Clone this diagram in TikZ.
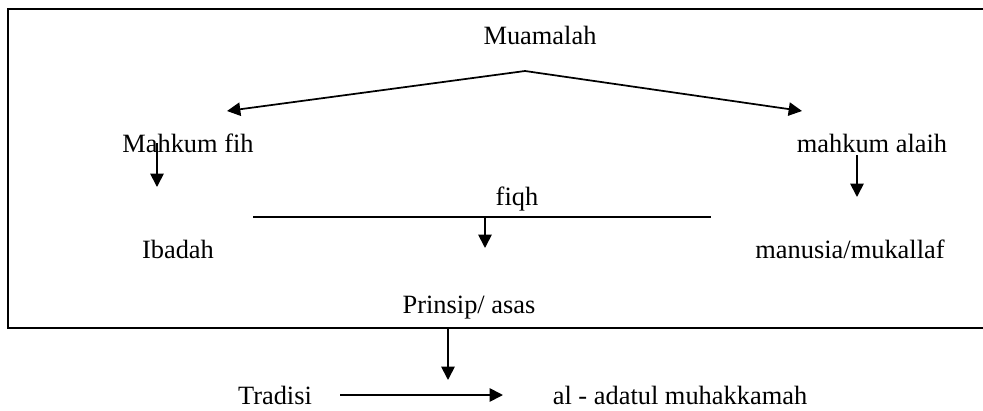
\documentclass[tikz,border=0pt]{standalone}
\usepackage{fontspec}
\setmainfont{Liberation Serif}
\usetikzlibrary{arrows.meta, positioning}

\begin{document}
\begin{tikzpicture}[
        x=0.75pt, y=-0.75pt,
        >={Triangle[length=10pt, width=10pt]},
        line width=1.3pt,
        term/.style={anchor=base, inner sep=0pt, font=\fontsize{19.8}{24}\selectfont}
    ]
    \useasboundingbox (0,0) rectangle (983,411);

    % --- Frame (open on the right) ---
    \draw (983,9) -- (8,9) -- (8,328) -- (983,328);

    % --- Terms ---
    \node[term] (muamalah) at (540,44) {Muamalah};
    \node[term] (fih) at (188,152) {Mahkum fih};
    \node[term] (alaih) at (872,152) {mahkum alaih};
    \node[term] (fiqh) at (517,205) {fiqh};
    \node[term] (ibadah) at (178,258) {Ibadah};
    \node[term] (manusia) at (850,258) {manusia/mukallaf};
    \node[term] (prinsip) at (469,313) {Prinsip/ asas};
    \node[term] (tradisi) at (275,404) {Tradisi};
    \node[term] (adat) at (680,404) {al - adatul muhakkamah};

    % --- Arrow ends ---
    \coordinate (split) at (525,71);
    \coordinate (fihin) at (227,111);
    \coordinate (alaihin) at (802,111);
    \coordinate (fihout) at (157,143);
    \coordinate (ibadahin) at (157,187);
    \coordinate (alaihout) at (857,155);
    \coordinate (manusiain) at (857,197);
    \coordinate (fiqhl) at (253,217);
    \coordinate (fiqhr) at (711,217);
    \coordinate (fiqhmid) at (485,217);
    \coordinate (prinsipin) at (485,248);
    \coordinate (frameout) at (448,328);
    \coordinate (tradisiin) at (448,380);
    \coordinate (tradisiout) at (340,395);
    \coordinate (adatin) at (503,395);

    % --- Muamalah splits in two ---
    \draw[->] (split) -- (fihin);
    \draw[->] (split) -- (alaihin);

    % --- Down arrows ---
    \draw[->] (fihout) -- (ibadahin);
    \draw[->] (alaihout) -- (manusiain);
    \draw (fiqhl) -- (fiqhr);
    \draw[->] (fiqhmid) -- (prinsipin);
    \draw[->] (frameout) -- (tradisiin);

    % --- Tradisi to al-adatul muhakkamah ---
    \draw[->] (tradisiout) -- (adatin);

\end{tikzpicture}
\end{document}
